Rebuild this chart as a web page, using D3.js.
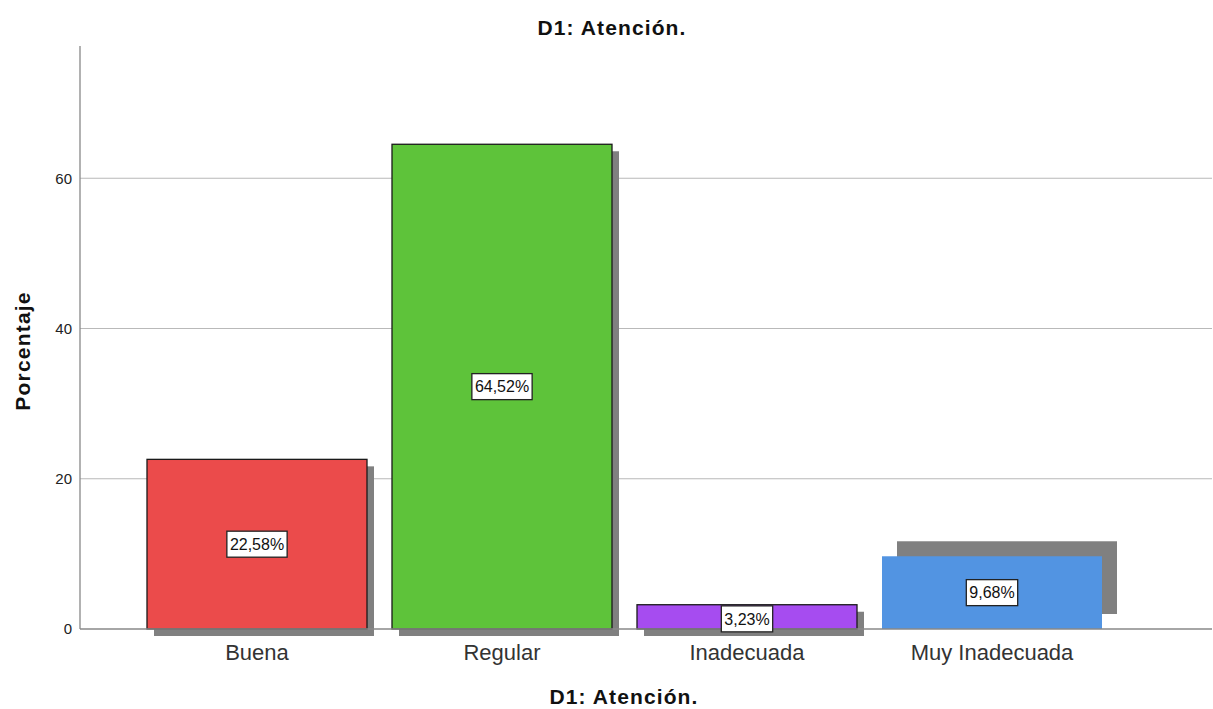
<!DOCTYPE html>
<html><head><meta charset="utf-8">
<script src="https://cdn.jsdelivr.net/npm/d3@7"></script>
<style>body{margin:0;background:#fff}svg{display:block;font-family:Arial,"Liberation Sans",sans-serif}</style>
</head><body><svg id="c" width="1213" height="709"></svg>
<script>
const categories = ["Buena", "Regular", "Inadecuada", "Muy Inadecuada"];
const values = [22.58, 64.52, 3.23, 9.68];
const colors = ["#EB4B4B", "#5EC33A", "#A64CF0", "#5294E2"];
const yTicks = [0, 20, 40, 60];
const chartTitle = "D1: Atención.";
const yTitle = "Porcentaje";

const svg = d3.select("#c");
const FONT = "Arial,'Liberation Sans',sans-serif";
const x = d3.scaleBand().domain(categories).range([134.5, 1114.5]).paddingInner(0.102).paddingOuter(0.051);
const y = d3.scaleLinear().domain([0, 77.6]).range([629, 46]);
const fmt = v => v.toFixed(2).replace(".", ",") + "%";

// gridlines
svg.append("g").selectAll("line").data(yTicks.filter(d => d > 0)).join("line")
  .attr("x1", 80).attr("x2", 1212).attr("y1", d => y(d)).attr("y2", d => y(d))
  .attr("stroke", "#b9b9b9").attr("stroke-width", 1.2);

// shadows
const shadowOff = categories.map((c, i) => i === categories.length - 1 ? [15, -15] : [7, 7]);
svg.append("g").selectAll("rect").data(categories).join("rect")
  .attr("x", (d, i) => x(d) + shadowOff[i][0])
  .attr("y", (d, i) => y(values[i]) + shadowOff[i][1])
  .attr("width", x.bandwidth())
  .attr("height", (d, i) => y(0) - y(values[i]))
  .attr("fill", "#808080");

// bars
svg.append("g").selectAll("rect").data(categories).join("rect")
  .attr("x", d => x(d))
  .attr("y", (d, i) => y(values[i]))
  .attr("width", x.bandwidth())
  .attr("height", (d, i) => y(0) - y(values[i]))
  .attr("fill", (d, i) => colors[i])
  .attr("stroke", (d, i) => i === categories.length - 1 ? "none" : "#1a1a1a")
  .attr("stroke-width", 1.3);

// axes
const yAxis = d3.axisLeft(y).tickValues(yTicks).tickSize(0).tickPadding(8);
const gy = svg.append("g").attr("transform", "translate(80,0)").call(yAxis);
gy.select(".domain").remove();
gy.selectAll("text").attr("font-size", 15).attr("fill", "#222").attr("font-family", FONT);
svg.append("line").attr("x1", 80).attr("x2", 80).attr("y1", 46).attr("y2", 629).attr("stroke", "#888").attr("stroke-width", 1.3);
svg.append("line").attr("x1", 80).attr("x2", 1212).attr("y1", 629).attr("y2", 629).attr("stroke", "#888").attr("stroke-width", 1.3);

const xAxis = d3.axisBottom(x).tickSize(0).tickPadding(15);
const gx = svg.append("g").attr("transform", "translate(0,629)").call(xAxis);
gx.select(".domain").remove();
gx.selectAll("text").attr("font-size", 22).attr("fill", "#333").attr("font-family", FONT)
  .attr("y", 31).attr("dy", 0);

// value labels
const lg = svg.append("g").selectAll("g").data(categories).join("g")
  .attr("transform", (d, i) => `translate(${x(d) + x.bandwidth() / 2},${(y(values[i]) + y(0)) / 2 + (i === 2 ? 2 : 0)})`);
lg.append("text").text((d, i) => fmt(values[i]))
  .attr("text-anchor", "middle").attr("dy", "0.36em").attr("font-size", 16).attr("fill", "#111");
lg.each(function () {
  const g = d3.select(this), b = g.select("text").node().getBBox();
  g.insert("rect", "text").attr("x", b.x - 3).attr("y", -13).attr("width", b.width + 6).attr("height", 26)
    .attr("fill", "#fff").attr("stroke", "#222").attr("stroke-width", 1.3);
});

// titles
svg.append("text").attr("x", 612).attr("y", 35).attr("text-anchor", "middle")
  .attr("font-size", 21).attr("font-weight", "bold").attr("letter-spacing", 1.1).attr("fill", "#111").text(chartTitle);
svg.append("text").attr("x", 624).attr("y", 704).attr("text-anchor", "middle")
  .attr("font-size", 21).attr("font-weight", "bold").attr("letter-spacing", 1.1).attr("fill", "#111").text(chartTitle);
svg.append("text").attr("transform", "translate(30,351) rotate(-90)").attr("text-anchor", "middle")
  .attr("font-size", 21).attr("font-weight", "bold").attr("letter-spacing", 1.2).attr("fill", "#111").text(yTitle);
</script></body></html>
